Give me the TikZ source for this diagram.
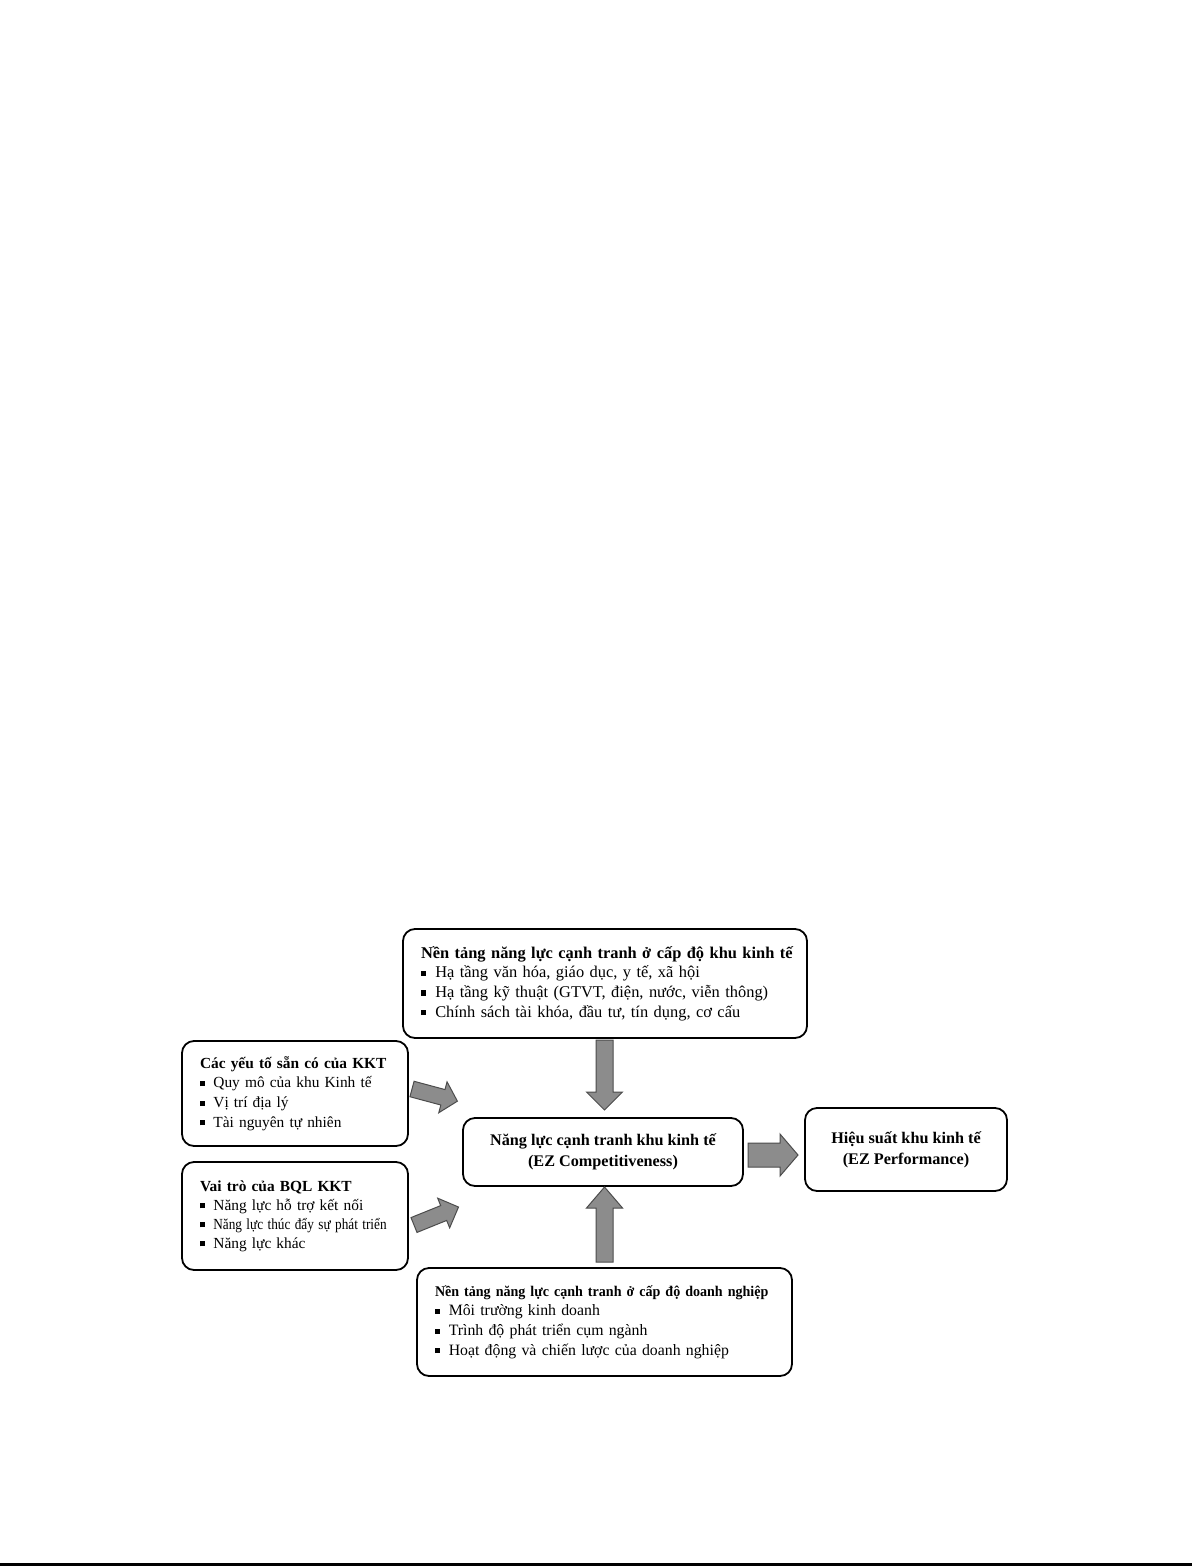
\documentclass[tikz,border=0pt]{standalone}
\usepackage{fontspec}
\usepackage{graphicx}
\setmainfont{Liberation Serif}
\newcommand\sqbul{\rule[0.12em]{0.32em}{0.32em}\hspace{0.55em}}
\begin{document}
\begin{tikzpicture}[x=0.5pt,y=-0.5pt,
  box/.style={draw, line width=0.9pt, rounded corners=6pt, align=left, inner xsep=9pt},
  cbox/.style={draw, line width=0.9pt, rounded corners=6pt, align=center,
    font=\fontsize{8.1}{10.5}\selectfont\bfseries},
  barrow/.style={fill=black!45, draw=black!70, line width=0.5pt, line join=miter}]
\useasboundingbox (0,0) rectangle (1192,1566);
\fill[white] (0,0) rectangle (1192,1566);

% boxes
\node[box, font=\fontsize{8.2}{9.8}\selectfont, minimum width=202pt, minimum height=54.5pt, text width=184pt] (top) at (605,983.5)
 {\mbox{\textbf{Nền tảng năng lực cạnh tranh ở cấp độ khu kinh tế}}\\
  \sqbul Hạ tầng văn hóa, giáo dục, y tế, xã hội\\
  \sqbul Hạ tầng kỹ thuật (GTVT, điện, nước, viễn thông)\\
  \sqbul Chính sách tài khóa, đầu tư, tín dụng, cơ cấu};

\node[box, font=\fontsize{7.7}{9.8}\selectfont, minimum width=113pt, minimum height=52.5pt, text width=95pt] (res) at (295,1093.5)
 {\mbox{\textbf{Các yếu tố sẵn có của KKT}}\\
  \sqbul Quy mô của khu Kinh tế\\
  \sqbul Vị trí địa lý\\
  \sqbul Tài nguyên tự nhiên};

\node[box, font=\fontsize{7.7}{9.5}\selectfont, minimum width=113pt, minimum height=54pt, text width=95pt] (bql) at (295,1216)
 {\mbox{\textbf{Vai trò của BQL KKT}}\\
  \sqbul Năng lực hỗ trợ kết nối\\
  \mbox{\sqbul\scalebox{0.86}[1]{Năng lực thúc đẩy sự phát triển}}\\
  \sqbul Năng lực khác};

\node[box, font=\fontsize{7.9}{9.8}\selectfont, minimum width=187.5pt, minimum height=54pt, text width=169.5pt] (firm) at (604.5,1322)
 {\mbox{\fontsize{7.4}{9.8}\selectfont\scalebox{0.95}[1]{\textbf{Nền tảng năng lực cạnh tranh ở cấp độ doanh nghiệp}}}\\
  \sqbul Môi trường kinh doanh\\
  \sqbul Trình độ phát triển cụm ngành\\
  \sqbul Hoạt động và chiến lược của doanh nghiệp};

\node[cbox, minimum width=140pt, minimum height=34pt] (comp) at (603,1152)
 {Năng lực cạnh tranh khu kinh tế\\(EZ Competitiveness)};

\node[cbox, minimum width=101pt, minimum height=41.5pt] (perf) at (906,1149.5)
 {Hiệu suất khu kinh tế\\(EZ Performance)};

% block arrow anchor points
\coordinate (a1) at (604.5,1040);
\coordinate (a2) at (604.5,1262);
\coordinate (a3) at (748,1155);
\coordinate (a4) at (412,1089);
\coordinate (a5) at (414,1225);

% top -> comp (down)
\begin{scope}[shift={(a1)}, rotate=-90]
\draw[barrow] (0,-8.5) -- (52,-8.5) -- (52,-18) -- (70,0) -- (52,18) -- (52,8.5) -- (0,8.5) -- cycle;
\end{scope}
% firm -> comp (up)
\begin{scope}[shift={(a2)}, rotate=90]
\draw[barrow] (0,-8.5) -- (54,-8.5) -- (54,-18) -- (75,0) -- (54,18) -- (54,8.5) -- (0,8.5) -- cycle;
\end{scope}
% comp -> perf
\begin{scope}[shift={(a3)}, rotate=0]
\draw[barrow] (0,-12) -- (32,-12) -- (32,-21) -- (50,0) -- (32,21) -- (32,12) -- (0,12) -- cycle;
\end{scope}
% res -> comp
\begin{scope}[shift={(a4)}, rotate=-15]
\draw[barrow] (0,-8) -- (32,-8) -- (32,-16) -- (47,0) -- (32,16) -- (32,8) -- (0,8) -- cycle;
\end{scope}
% bql -> comp
\begin{scope}[shift={(a5)}, rotate=22]
\draw[barrow] (0,-8) -- (32,-8) -- (32,-16) -- (48,0) -- (32,16) -- (32,8) -- (0,8) -- cycle;
\end{scope}

% bottom edge line
\draw[line width=1.5pt] (0,1564.5) -- (1192,1564.5);
\end{tikzpicture}
\end{document}
